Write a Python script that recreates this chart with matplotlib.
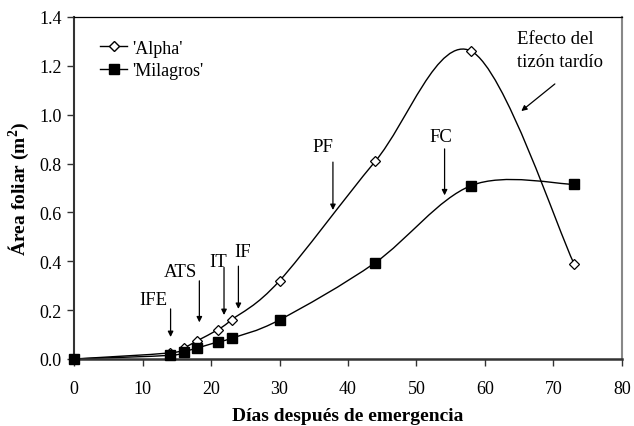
import numpy as np
import matplotlib
matplotlib.use('Agg')
import matplotlib.pyplot as plt
from matplotlib.path import Path
from matplotlib.patches import PathPatch
from matplotlib.lines import Line2D

plt.rcParams['font.family'] = ['Liberation Serif', 'DejaVu Serif']
plt.rcParams['mathtext.fontset'] = 'custom'
plt.rcParams['mathtext.rm'] = 'Liberation Serif'
plt.rcParams['mathtext.bf'] = 'Liberation Serif:bold'

dias = [0, 14, 16, 18, 21, 23, 30, 44, 58, 73]
alpha = [0.0, 0.025, 0.045, 0.075, 0.12, 0.16, 0.32, 0.81, 1.26, 0.39]
milagros = [0.0, 0.015, 0.03, 0.045, 0.07, 0.085, 0.16, 0.395, 0.71, 0.715]

# labels: (text, text_x, text_y, arrow_x, arrow_top, arrow_bottom)
fases = [
    ("IFE", 11.6, 0.245, 14.1, 0.205, 0.09),
    ("ATS", 15.5, 0.36, 18.3, 0.32, 0.15),
    ("IT", 21.0, 0.40, 21.9, 0.375, 0.18),
    ("IF", 24.6, 0.44, 24.0, 0.38, 0.205),
    ("PF", 36.3, 0.87, 37.8, 0.806, 0.61),
    ("FC", 53.6, 0.91, 54.1, 0.86, 0.67),
]


def smooth_path(xs, ys, sx, sy):
    # Excel-style smoothed line (bezier with 1/6 tension), computed in pixel space
    p = np.column_stack([np.array(xs) * sx, np.array(ys) * sy])
    n = len(p)
    verts = [p[0]]
    codes = [Path.MOVETO]
    for i in range(n - 1):
        p0 = p[i - 1] if i > 0 else p[i]
        p1 = p[i]
        p2 = p[i + 1]
        p3 = p[i + 2] if i + 2 < n else p[i + 1]
        c1 = p1 + (p2 - p0) / 6.0
        c2 = p2 - (p3 - p1) / 6.0
        verts += [c1, c2, p2]
        codes += [Path.CURVE4] * 3
    verts = np.array(verts)
    verts[:, 0] /= sx
    verts[:, 1] /= sy
    return Path(verts, codes)


fig = plt.figure(figsize=(6.34, 4.27), dpi=100)
ax = fig.add_axes([74 / 634, 67 / 427, 548 / 634, 342 / 427])
ax.set_xlim(0, 80)
ax.set_ylim(0, 1.4)

sx = 548 / 80
sy = 342 / 1.4
for ys in (alpha, milagros):
    ax.add_patch(PathPatch(smooth_path(dias, ys, sx, sy), fill=False,
                           edgecolor='black', lw=1.0, zorder=2))

ax.plot(dias, alpha, ls='none', marker='D', ms=5.5, mfc='white', mec='black',
        mew=0.9, zorder=3, clip_on=False)
ax.plot(dias, milagros, ls='none', marker='s', ms=7, mfc='black',
        mec='black', zorder=3, clip_on=False)

handles = [
    Line2D([], [], color='black', lw=1, marker='D', ms=5, mfc='white', mec='black'),
    Line2D([], [], color='black', lw=1, marker='s', ms=6.5, mfc='black'),
]
ax.legend(handles, ["'Alpha'", "'Milagros'"], loc='upper left', frameon=False,
          fontsize=13, bbox_to_anchor=(0.035, 0.955), handlelength=1.5,
          handletextpad=0.25, labelspacing=0.3, borderaxespad=0)

for txt, tx, ty, axx, atop, abot in fases:
    ax.text(tx, ty, txt, ha='center', va='center', fontsize=13.5)
    ax.annotate('', xy=(axx, abot), xytext=(axx, atop),
                arrowprops=dict(arrowstyle='-|>', color='black', lw=0.9,
                                mutation_scale=8, shrinkA=0, shrinkB=0))

ax.text(64.6, 1.265, "Efecto del\ntizón tardío", ha='left', va='center',
        fontsize=13.5, linespacing=1.4)
ax.annotate('', xy=(65.3, 1.015), xytext=(70.2, 1.126),
            arrowprops=dict(arrowstyle='-|>', color='black', lw=0.9,
                            mutation_scale=8, shrinkA=0, shrinkB=0))

ax.set_xticks(np.arange(0, 81, 10))
ax.set_yticks(np.arange(0, 1.41, 0.2))
ax.yaxis.set_major_formatter(matplotlib.ticker.FormatStrFormatter('%.1f'))
ax.tick_params(axis='x', direction='out', length=5, labelsize=13, pad=10,
               color='#333333', width=1)
ax.tick_params(axis='y', direction='out', length=5, labelsize=13, pad=4,
               color='#333333', width=1)

for s in ax.spines.values():
    s.set_linewidth(0.9)
ax.spines['left'].set_linewidth(1.5)
ax.spines['bottom'].set_linewidth(1.8)
ax.spines['left'].set_color('#333333')
ax.spines['bottom'].set_color('#333333')
ax.spines['right'].set_color('#888888')
ax.spines['right'].set_linewidth(1.5)

ax.set_xlabel('Días después de emergencia', fontsize=14, fontweight='bold',
              labelpad=7)
ax.set_ylabel(r'Área foliar (m$^\mathbf{2}$)', fontsize=14, fontweight='bold',
              labelpad=5)

fig.savefig('out.png', dpi=100)
